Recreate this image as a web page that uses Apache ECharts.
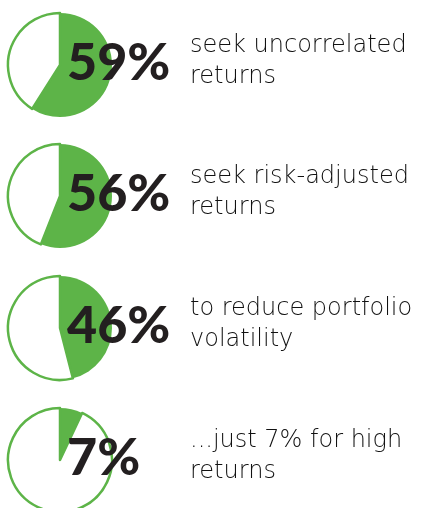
<!DOCTYPE html>
<html>
<head>
<meta charset="utf-8">
<script src="https://cdn.jsdelivr.net/npm/echarts@6/dist/echarts.min.js"></script>
<style>
html, body { margin: 0; padding: 0; background: #fff; }
#chart { width: 429px; height: 508px; }
</style>
</head>
<body>
<div id="chart"></div>
<script>
// share of respondents per reason
var percents = [59, 56, 46, 7];
var labels = [
    'seek uncorrelated\nreturns',
    'seek risk-adjusted\nreturns',
    'to reduce portfolio\nvolatility',
    '...just 7% for high\nreturns'
];

var green = '#5db448';
var centersY = [65, 196, 328, 460];

var chart = echarts.init(document.getElementById('chart'));

var series = [];
var graphic = [];
percents.forEach(function (p, i) {
    series.push({
        type: 'pie',
        radius: [0, 52],
        center: [60, centersY[i]],
        startAngle: 90,
        clockwise: true,
        silent: true,
        label: { show: false },
        labelLine: { show: false },
        data: [
            { value: p, itemStyle: { color: green, borderWidth: 0 } },
            { value: 100 - p, itemStyle: { color: '#fff', borderColor: green, borderWidth: 2.5 } }
        ]
    });
    graphic.push({
        type: 'text',
        z: 100,
        style: {
            text: p + '%',
            x: 67,
            y: centersY[i] - 2,
            verticalAlign: 'middle',
            fill: '#231f20',
            font: '900 52px Lato'
        }
    });
    graphic.push({
        type: 'text',
        z: 100,
        style: {
            text: labels[i],
            x: 190,
            y: centersY[i] - 4,
            verticalAlign: 'middle',
            fill: '#111',
            font: '300 24px "DejaVu Sans"',
            lineHeight: 31
        }
    });
});

chart.setOption({
    animation: false,
    series: series,
    graphic: graphic
});
</script>
</body>
</html>
